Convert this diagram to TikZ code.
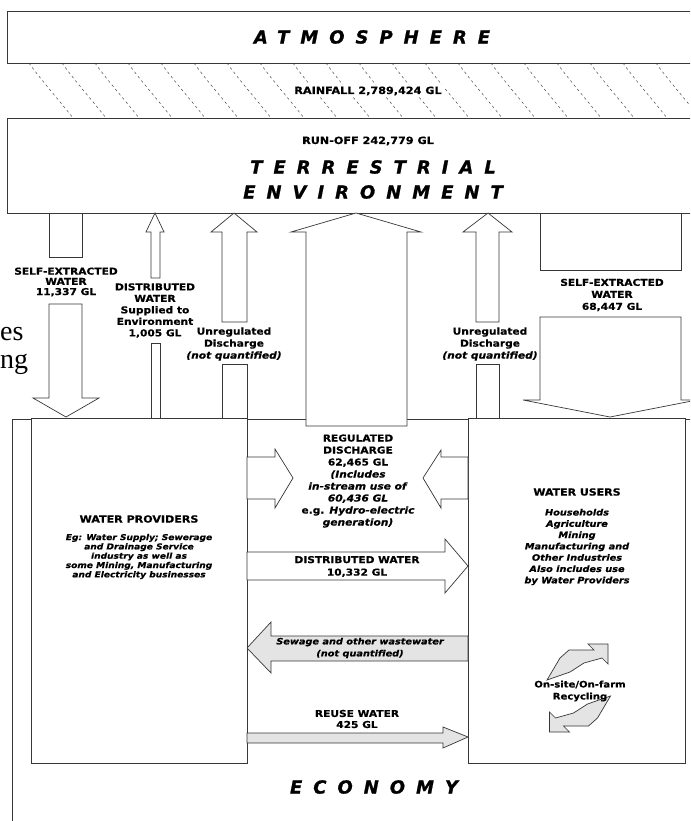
\documentclass[tikz,border=0pt]{standalone}
\usepackage{fontspec}
\setmainfont{DejaVu Sans}[FakeStretch=1.12, BoldFeatures={FakeBold=0.6}, BoldItalicFeatures={FakeBold=0.6}]
\newfontfamily\headfont{DejaVu Sans}[LetterSpace=61, BoldItalicFeatures={FakeBold=1}]
\newfontfamily\serifbit{Liberation Serif}
\usetikzlibrary{positioning}
\definecolor{inkgrey}{RGB}{55,55,55}
\definecolor{flowgrey}{RGB}{228,228,228}
\tikzset{
  realm/.style={draw=inkgrey, line width=0.8pt},
  sector/.style={draw=inkgrey, line width=0.8pt, fill=white, anchor=north west, inner sep=0pt},
  blockarrow/.style={draw=inkgrey, line width=0.7pt, fill=white, line join=miter},
  greyarrow/.style={blockarrow, fill=flowgrey},
  rainline/.style={draw=inkgrey, line width=0.45pt, dash pattern=on 2.5pt off 3pt},
  heading/.style={font=\headfont\bfseries\itshape\fontsize{18}{25}\selectfont, align=center, inner sep=0pt},
  flowlabel/.style={font=\bfseries\fontsize{9.5}{11}\selectfont, align=center, inner sep=0pt},
  notelabel/.style={font=\bfseries\itshape\fontsize{8.7}{11.3}\selectfont, align=center, inner sep=0pt},
  stray/.style={font=\serifbit\fontsize{28}{28}\selectfont, anchor=base west, inner sep=0pt},
  recycle/.pic={
    \draw[greyarrow] (30.5,-18) -- (30.5,2) -- (24.5,-4) -- (6.5,1) -- (-7.5,10) -- (-30.5,18)
      -- (-17.5,-4) -- (-8.5,-12) -- (16.5,-12) -- (10.5,-18) -- cycle;
  }
}

\begin{document}
\begin{tikzpicture}[x=1pt,y=-1pt]
  \useasboundingbox (0,0) rectangle (690,821);
  \clip (0,0) rectangle (690,821);

  % atmosphere and rain
  \draw[realm, fill=white] (7,11) rectangle (700,63);
  \node[heading] (atmosphere) at (372,37) {ATMOSPHERE};
  \foreach \x in {29,62,...,656}
    \draw[rainline] (\x,63) .. controls (\x+12,80) and (\x+30,100) .. (\x+44,118);
  \node[flowlabel, font=\bfseries\fontsize{10}{11}\selectfont, fill=white, inner sep=2pt]
    (rainfall) at (368,91) {RAINFALL 2,789,424 GL};

  % terrestrial environment
  \draw[realm, fill=white] (7,118) rectangle (700,213);
  \node[flowlabel, font=\bfseries\fontsize{10}{11}\selectfont] (runoff) at (368,141) {RUN-OFF 242,779 GL};
  \node[heading] (terrestrial) at (373,179.5) {TERRESTRIAL\\ENVIRONMENT};

  % economy
  \draw[realm] (700,419) -- (12,419) -- (12,830);
  \node[sector, minimum width=216pt, minimum height=345pt] (providers) at (31,418) {};
  \node[sector, minimum width=217pt, minimum height=345pt] (users) at (468,418) {};
  \node[heading] (economy) at (374,787) {ECONOMY};

  % stray text at the left edge
  \node[stray] (strayes) at (0,340) {es};
  \node[stray] (strayng) at (0,368) {ng};

  % vertical flows
  \draw[blockarrow] (49,213) rectangle (82,257);
  \draw[blockarrow] (49,304) -- (49,398) -- (33,398) -- (66,417) -- (99,398) -- (82,398) -- (82,304) -- cycle;
  \node[flowlabel, font=\bfseries\fontsize{9.5}{10.2}\selectfont] (selfwest) at (66,282)
    {SELF-EXTRACTED\\WATER\\11,337 GL};

  \draw[blockarrow] (151,278) -- (151,232) -- (146,232) -- (155,213) -- (164,232) -- (160,232) -- (160,278) -- cycle;
  \draw[blockarrow] (151,343) rectangle (160,418);
  \node[flowlabel, font=\bfseries\fontsize{9.5}{11.5}\selectfont] (distenv) at (155,310.5)
    {DISTRIBUTED\\WATER\\Supplied to\\Environment\\1,005 GL};

  \draw[blockarrow] (222,322) -- (222,232) -- (211,232) -- (234,213) -- (257,232) -- (247,232) -- (247,322) -- cycle;
  \draw[blockarrow] (222,364) rectangle (247,418);
  \node[flowlabel, font=\bfseries\fontsize{9.5}{12}\selectfont] (unregwest) at (234,344)
    {Unregulated\\Discharge\\\textit{(not quantified)}};

  \draw[blockarrow] (306,426) -- (306,232) -- (291,232) -- (356,213) -- (421,232) -- (407,232) -- (407,426) -- cycle;

  \draw[blockarrow] (476,322) -- (476,232) -- (463,232) -- (488,213) -- (512,232) -- (499,232) -- (499,322) -- cycle;
  \draw[blockarrow] (476,364) rectangle (499,418);
  \node[flowlabel, font=\bfseries\fontsize{9.5}{12}\selectfont] (unregeast) at (490,344)
    {Unregulated\\Discharge\\\textit{(not quantified)}};

  \draw[blockarrow] (540,213) rectangle (681,270);
  \draw[blockarrow] (540,317) -- (540,400) -- (523,400) -- (610,417) -- (697,400) -- (681,400) -- (681,317) -- cycle;
  \node[flowlabel, font=\bfseries\fontsize{9.5}{12}\selectfont] (selfeast) at (612,295)
    {SELF-EXTRACTED\\WATER\\68,447 GL};

  % flows between providers and users
  \draw[blockarrow] (247,457) -- (275,457) -- (275,449) -- (293,478) -- (275,508) -- (275,499) -- (247,499) -- cycle;
  \draw[blockarrow] (468,457) -- (441,457) -- (441,450) -- (423,478) -- (441,508) -- (441,499) -- (468,499) -- cycle;
  \node[flowlabel, font=\bfseries\fontsize{9.5}{12}\selectfont] (regulated) at (358,481)
    {REGULATED\\DISCHARGE\\62,465 GL\\\textit{(Includes}\\\textit{in-stream use of}\\\textit{60,436 GL}\\e.g. \textit{Hydro-electric}\\\textit{generation)}};

  \draw[blockarrow] (247,552) -- (445,552) -- (445,539) -- (468,566) -- (445,593) -- (445,580) -- (247,580) -- cycle;
  \node[flowlabel, font=\bfseries\fontsize{9.5}{12.5}\selectfont] (distwater) at (357,566.5)
    {DISTRIBUTED WATER\\10,332 GL};

  \draw[greyarrow] (468,636) -- (271,636) -- (271,622) -- (247,648) -- (271,673) -- (271,661) -- (468,661) -- cycle;
  \node[notelabel, font=\bfseries\itshape\fontsize{8.7}{12}\selectfont] (sewage) at (360,648)
    {Sewage and other wastewater\\(not quantified)};

  \draw[greyarrow] (247,733) -- (443,733) -- (443,727) -- (468,737) -- (443,748) -- (443,743) -- (247,743) -- cycle;
  \node[flowlabel, font=\bfseries\fontsize{9.5}{11}\selectfont] (reuse) at (357,719)
    {REUSE WATER\\425 GL};

  % providers
  \node[flowlabel, font=\bfseries\fontsize{9.9}{12}\selectfont] (providerstitle) at (139,519) {WATER PROVIDERS};
  \node[notelabel, font=\bfseries\itshape\fontsize{8.1}{9.3}\selectfont] (providersnote) at (139,556.5)
    {Eg: Water Supply; Sewerage\\and Drainage Service\\industry as well as\\some Mining, Manufacturing\\and Electricity businesses};

  % users
  \node[flowlabel, font=\bfseries\fontsize{9.8}{12}\selectfont] (userstitle) at (577,492) {WATER USERS};
  \node[notelabel] (usersnote) at (577,547)
    {Households\\Agriculture\\Mining\\Manufacturing and\\Other Industries\\Also includes use\\by Water Providers};

  \pic at (577.5,662) {recycle};
  \pic[rotate=180] at (580,714) {recycle};
  \node[flowlabel, font=\bfseries\fontsize{9}{12}\selectfont] (recycling) at (580,691)
    {On-site/On-farm\\Recycling};
\end{tikzpicture}
\end{document}
